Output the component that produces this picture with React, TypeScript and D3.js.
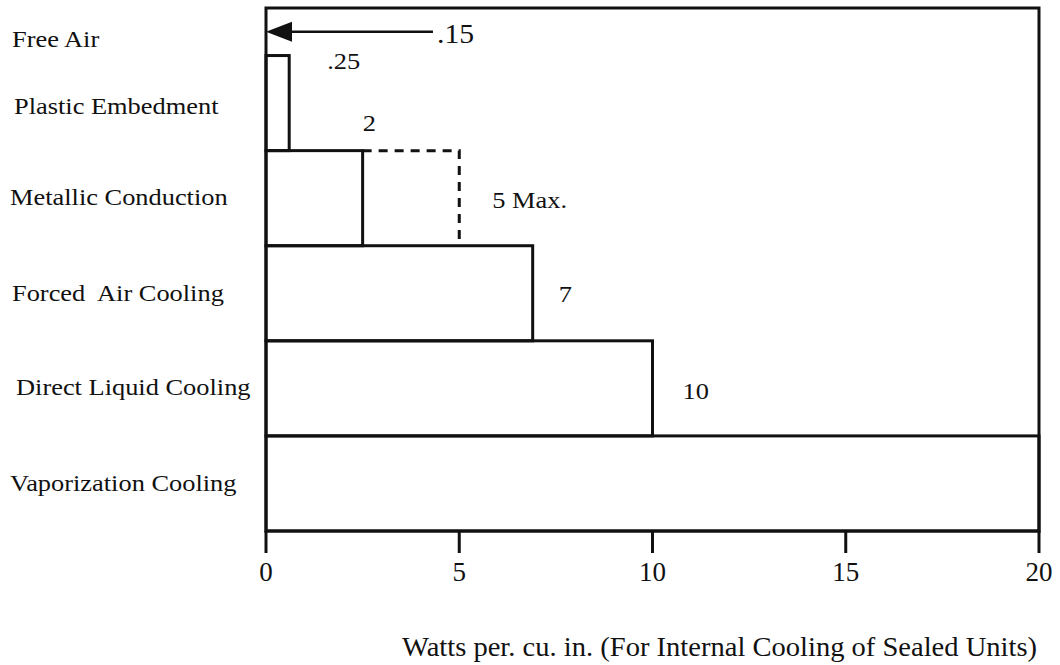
import React from "react";
import * as d3 from "d3";

const categories = [
  "Free Air",
  "Plastic Embedment",
  "Metallic Conduction",
  "Forced  Air Cooling",
  "Direct Liquid Cooling",
  "Vaporization Cooling",
];
// row extents in row units (Free Air row is half height)
const rowStart = [0, 0.5, 1.5, 2.5, 3.5, 4.5];
const rowEnd = [0.5, 1.5, 2.5, 3.5, 4.5, 5.5];
// drawn extent of each bar (Free Air = arrow tail)
const drawnValues = [4.32, 0.6, 2.5, 6.9, 10, 20];
const valueLabels = [".15", ".25", "2", "7", "10", ""];
const maxValue = 5;
const maxLabel = "5 Max.";
const xTicks = [0, 5, 10, 15, 20];
const xTitle = "Watts per. cu. in. (For Internal Cooling of Sealed Units)";

const W = 1060;
const H = 665;
const L = 266;
const R = 1039;
const T = 8;
const B = 531;
const FONT = "'Liberation Serif', 'Times New Roman', serif";
const INK = "#111";

// layout tweaks for labels (pixels)
const catX = [12, 14, 10, 12, 16, 10];
const catDy = [15, 11, 7, 8, 7, 8];
const valDx = [4, 38, 0, 26, 30, 0];
const valDy = [11, 13, -20, 9, 11, 0];
const valSize = [27, 24, 24, 24, 24, 24];

function T2({ x, y, size = 24, sx = 1.1, anchor = "start", children }: any) {
  return (
    <g transform={`translate(${x},${y}) scale(${sx},1)`}>
      <text
        x={0}
        y={0}
        fontSize={size}
        textAnchor={anchor}
        fill={INK}
        style={{ whiteSpace: "pre" }}
      >
        {children}
      </text>
    </g>
  );
}

export default function App() {
  const x = d3.scaleLinear().domain([0, 20]).range([L, R]);
  const y = d3.scaleLinear().domain([0, 5.5]).range([T, B]);
  const sw = 3;

  const arrowY = (y(rowStart[0]) + y(rowEnd[0])) / 2;
  const tip = x(0);
  const arrowPath = d3.path();
  arrowPath.moveTo(tip, arrowY);
  arrowPath.lineTo(tip + 26, arrowY - 10);
  arrowPath.lineTo(tip + 26, arrowY + 10);
  arrowPath.closePath();

  return (
    <svg
      width={W}
      height={H}
      style={{ position: "absolute", left: 0, top: 0, background: "#fff" }}
      fontFamily={FONT}
    >
      <rect x={0} y={0} width={W} height={H} fill="#fff" />
      {/* bars */}
      {categories.map((c, i) =>
        i === 0 ? null : (
          <rect
            key={c}
            x={x(0)}
            y={y(rowStart[i])}
            width={x(drawnValues[i]) - x(0)}
            height={y(rowEnd[i]) - y(rowStart[i])}
            fill="none"
            stroke={INK}
            strokeWidth={sw}
          />
        )
      )}
      {/* dashed max for metallic conduction */}
      <path
        d={`M${x(drawnValues[2])},${y(rowStart[2])}H${x(maxValue)}V${y(rowEnd[2])}`}
        fill="none"
        stroke={INK}
        strokeWidth={sw}
        strokeDasharray="9,7"
      />
      {/* free air arrow */}
      <line
        x1={x(drawnValues[0])}
        x2={tip + 20}
        y1={arrowY}
        y2={arrowY}
        stroke={INK}
        strokeWidth={2.5}
      />
      <path d={arrowPath.toString()} fill={INK} />
      {/* frame */}
      <rect
        x={L}
        y={T}
        width={R - L}
        height={B - T}
        fill="none"
        stroke={INK}
        strokeWidth={sw}
      />
      {/* ticks */}
      {xTicks.map((t) => (
        <g key={t}>
          <line x1={x(t)} x2={x(t)} y1={B} y2={B + 22} stroke={INK} strokeWidth={sw} />
          <T2 x={x(t)} y={581} size={27} sx={1} anchor="middle">
            {String(t)}
          </T2>
        </g>
      ))}
      {/* category labels */}
      {categories.map((c, i) => (
        <T2 key={c} x={catX[i]} y={(y(rowStart[i]) + y(rowEnd[i])) / 2 + catDy[i]}>
          {c}
        </T2>
      ))}
      {/* value labels */}
      {valueLabels.map((v, i) => {
        if (!v) return null;
        const cy = (y(rowStart[i]) + y(rowEnd[i])) / 2;
        const yy =
          i === 1
            ? y(rowStart[i]) + valDy[i]
            : i === 2
            ? y(rowEnd[i - 1]) + valDy[i]
            : cy + valDy[i];
        return (
          <T2 key={i} x={x(drawnValues[i]) + valDx[i]} y={yy} size={valSize[i]}>
            {v}
          </T2>
        );
      })}
      <T2 x={x(maxValue) + 33} y={(y(rowStart[2]) + y(rowEnd[2])) / 2 + 10}>
        {maxLabel}
      </T2>
      {/* axis title */}
      <T2 x={402} y={656} size={28} sx={1.02}>
        {xTitle}
      </T2>
    </svg>
  );
}
